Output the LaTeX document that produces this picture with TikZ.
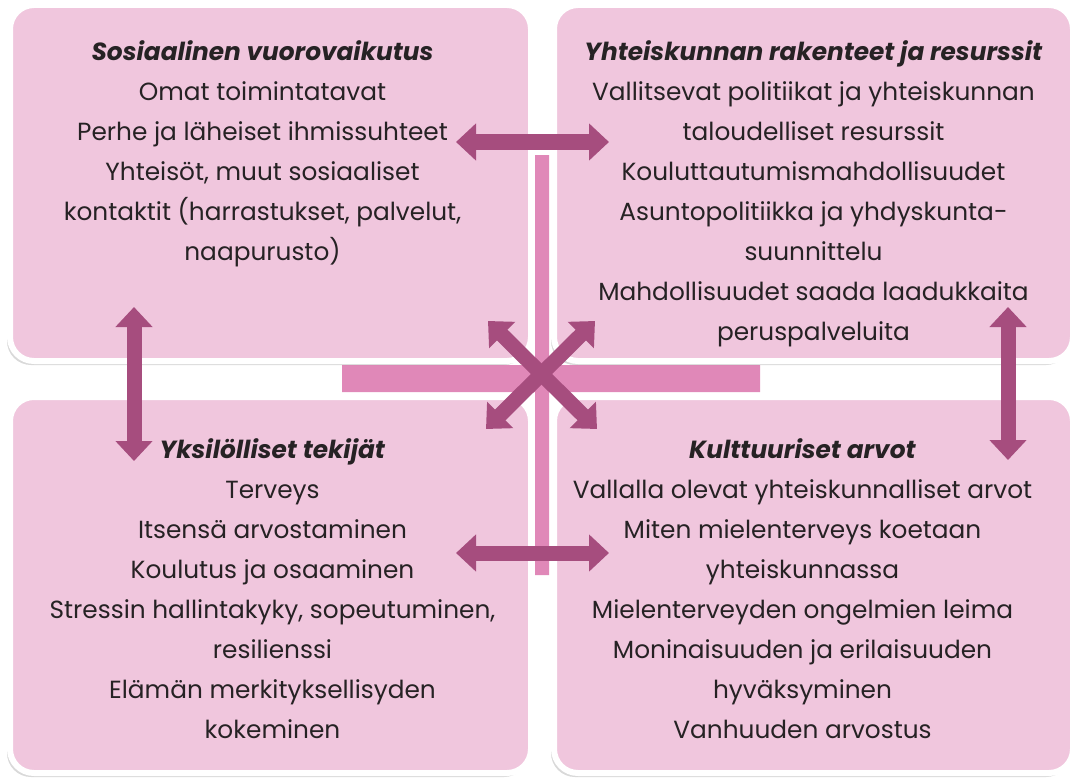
\documentclass[tikz,border=0pt]{standalone}
\usepackage{fontspec}
\setmainfont{Poppins}
\usetikzlibrary{arrows.meta,shadows,positioning}
\definecolor{boxpink}{HTML}{F0C6DD}
\definecolor{barpink}{HTML}{E088B8}
\definecolor{arrowc}{HTML}{A64D7E}
\definecolor{txt}{HTML}{262224}

\begin{document}
\begin{tikzpicture}[x=0.5pt,y=-0.5pt,line join=round,
  box/.style={draw=white,line width=3pt,fill=boxpink,rounded corners=12pt,
    drop shadow={shadow xshift=-1.5pt,shadow yshift=-2pt,opacity=.3}},
  blurb/.style={align=center,inner sep=0pt,text=txt,font=\fontsize{12.4}{20}\selectfont},
  link/.style={draw=arrowc,line width=7.5pt,{Triangle[width=18pt,length=10pt]}-{Triangle[width=18pt,length=10pt]}}]
		\useasboundingbox (0,0) rectangle (1081,781);
		\fill[barpink] (535,155) rectangle (549,575) (342,365) rectangle (760,392);
		\node[box,minimum width=260.5pt,minimum height=178pt] (soc) at (270.5,183) {};
		\node[box,minimum width=259.5pt,minimum height=178pt] (rak) at (813.5,183) {};
		\node[box,minimum width=260.5pt,minimum height=188pt] (yks) at (270.5,585) {};
		\node[box,minimum width=259.5pt,minimum height=188pt] (kult) at (813.5,585) {};
		\node[blurb,below=19pt of soc.north,xshift=-4pt] (socText) {\textbf{\textit{Sosiaalinen vuorovaikutus}}\\Omat toimintatavat\\Perhe ja läheiset ihmissuhteet\\Yhteisöt, muut sosiaaliset\\kontaktit (harrastukset, palvelut,\\naapurusto)};
		\node[blurb,below=19pt of rak.north] (rakText) {\textbf{\textit{Yhteiskunnan rakenteet ja resurssit}}\\Vallitsevat politiikat ja yhteiskunnan\\taloudelliset resurssit\\Kouluttautumismahdollisuudet\\Asuntopolitiikka ja yhdyskunta-\\suunnittelu\\Mahdollisuudet saada laadukkaita\\peruspalveluita};
		\node[blurb,below=22pt of yks.north,xshift=1pt] (yksText) {\textbf{\textit{Yksilölliset tekijät}}\\Terveys\\Itsensä arvostaminen\\Koulutus ja osaaminen\\Stressin hallintakyky, sopeutuminen,\\resilienssi\\Elämän merkityksellisyden\\kokeminen};
		\node[blurb,below=22pt of kult.north,xshift=-5.5pt] (kultText) {\textbf{\textit{Kulttuuriset arvot}}\\Vallalla olevat yhteiskunnalliset arvot\\Miten mielenterveys koetaan\\yhteiskunnassa\\Mielenterveyden ongelmien leima\\Moninaisuuden ja erilaisuuden\\hyväksyminen\\Vanhuuden arvostus};
		\coordinate (t1) at (456,142);  \coordinate (t2) at (609,142);
		\coordinate (b1) at (456,553);  \coordinate (b2) at (609,553);
		\coordinate (l1) at (134,307);  \coordinate (l2) at (134,461);
		\coordinate (r1) at (1008,307); \coordinate (r2) at (1008,460);
		\coordinate (x1) at (488,321);  \coordinate (x2) at (597,429);
		\coordinate (x3) at (595,321);  \coordinate (x4) at (486,429);
		\foreach \a/\b in {t1/t2,b1/b2,l1/l2,r1/r2,x1/x2,x3/x4}{\draw[link] (\a)--(\b);}
\end{tikzpicture}
\end{document}
